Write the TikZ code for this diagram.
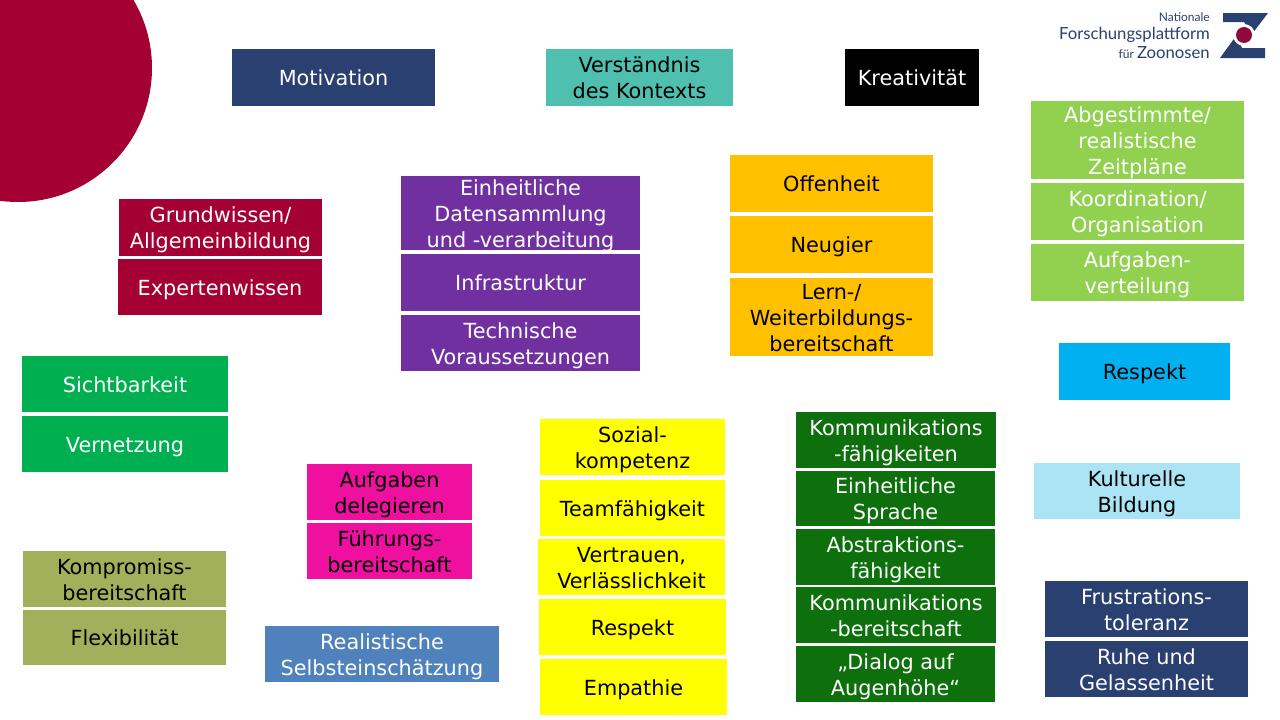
\documentclass[tikz,border=0pt]{standalone}
\usepackage{fontspec}
\setmainfont{DejaVu Sans}
\newfontfamily\logofont{Lato}
\definecolor{crim}{HTML}{A50034}
\definecolor{navy}{HTML}{2A4070}
\definecolor{teal}{HTML}{4FBFAF}
\definecolor{purp}{HTML}{7030A0}
\definecolor{amber}{HTML}{FFC000}
\definecolor{lgreen}{HTML}{92D050}
\definecolor{sky}{HTML}{00B0F0}
\definecolor{green1}{HTML}{00B050}
\definecolor{pinkm}{HTML}{F010A0}
\definecolor{yell}{HTML}{FFFF00}
\definecolor{dgreen}{HTML}{0D700D}
\definecolor{pale}{HTML}{ABE5F5}
\definecolor{olive}{HTML}{A2B05C}
\definecolor{steel}{HTML}{4F81BD}
\definecolor{logored}{HTML}{8E0A3C}
\newcommand{\bxs}{\rule[-5pt]{0pt}{26pt}}
\newcommand{\bx}[8]{%
  \node[box,fill=#6,text=#7,minimum width={(#4-#2)*1pt},minimum height={(#5-#3)*1pt}] (#1) at ({(#2+#4)/2},{(#3+#5)/2}) {\bxs #8\bxs};}
\tikzset{box/.style={inner sep=0pt,outer sep=0pt,align=center,font=\fontsize{20.8}{26}\selectfont},
 logotxt/.style={inner sep=0pt,anchor=base east,text=navy,font=\logofont}}
\begin{document}
\begin{tikzpicture}[x=1pt,y=-1pt]
\useasboundingbox (0,0) rectangle (1280,720);
\begin{scope}
\clip (0,0) rectangle (1280,720);
\fill[crim] (18,68) circle[radius=134pt];
\end{scope}
\bx{mot}{232}{49}{435}{106}{navy}{white}{Motivation}
\bx{ver}{546}{49}{733}{106}{teal}{black}{Verständnis\\des Kontexts}
\bx{kre}{845}{49}{979}{106}{black}{white}{Kreativität}
\bx{abg}{1031}{101}{1244}{179}{lgreen}{white}{Abgestimmte/\\realistische\\Zeitpläne}
\bx{koo}{1031}{183}{1244}{240}{lgreen}{white}{Koordination/\\Organisation}
\bx{auf}{1031}{244}{1244}{301}{lgreen}{white}{Aufgaben-\\verteilung}
\bx{off}{730}{155}{933}{212}{amber}{black}{Offenheit}
\bx{neu}{730}{216}{933}{273}{amber}{black}{Neugier}
\bx{ler}{730}{278}{933}{356}{amber}{black}{Lern-/\\Weiterbildungs-\\bereitschaft}
\node[box,fill=purp,text=white,inner ysep=-2pt,minimum width=239pt,minimum height=74pt] (ein) at (520.5,213) {\bxs Einheitliche\\Datensammlung\\und -verarbeitung\bxs};
\bx{inf}{401}{254}{640}{311}{purp}{white}{Infrastruktur}
\bx{tec}{401}{315}{640}{371}{purp}{white}{Technische\\Voraussetzungen}
\bx{gru}{119}{199}{322}{256}{crim}{white}{Grundwissen/\\Allgemeinbildung}
\bx{exp}{118}{259}{322}{315}{crim}{white}{Expertenwissen}
\bx{sic}{22}{356}{228}{412}{green1}{white}{Sichtbarkeit}
\bx{ven}{22}{416}{228}{472}{green1}{white}{Vernetzung}
\bx{res}{1059}{343}{1230}{400}{sky}{black}{Respekt}
\bx{kul}{1034}{463}{1240}{519}{pale}{black}{Kulturelle\\Bildung}
\bx{fru}{1045}{581}{1248}{637}{navy}{white}{Frustrations-\\toleranz}
\bx{ruh}{1045}{641}{1248}{697}{navy}{white}{Ruhe und\\Gelassenheit}
\bx{del}{307}{464}{472}{520}{pinkm}{black}{Aufgaben\\delegieren}
\bx{fuh}{307}{523}{472}{579}{pinkm}{black}{Führungs-\\bereitschaft}
\bx{kom}{23}{551}{226}{607}{olive}{black}{Kompromiss-\\bereitschaft}
\bx{fle}{23}{610}{226}{665}{olive}{black}{Flexibilität}
\bx{rea}{265}{626}{499}{682}{steel}{white}{Realistische\\Selbsteinschätzung}
\bx{soz}{540}{419}{725}{475}{yell}{black}{Sozial-\\kompetenz}
\bx{tea}{540}{480}{725}{536}{yell}{black}{Teamfähigkeit}
\bx{vet}{538}{539}{725}{595}{yell}{black}{Vertrauen,\\Verlässlichkeit}
\bx{rsp}{539}{599}{726}{655}{yell}{black}{Respekt}
\bx{emp}{540}{659}{727}{715}{yell}{black}{Empathie}
\bx{kf}{796}{412}{996}{468}{dgreen}{white}{Kommunikations\\-fähigkeiten}
\bx{sp}{796}{471}{995}{526}{dgreen}{white}{Einheitliche\\Sprache}
\bx{abs}{796}{529}{995}{585}{dgreen}{white}{Abstraktions-\\fähigkeit}
\bx{kb}{796}{587}{996}{643}{dgreen}{white}{Kommunikations\\-bereitschaft}
\bx{dia}{796}{646}{995}{702}{dgreen}{white}{„Dialog auf\\Augenhöhe“}
% logo
\node[logotxt,font=\logofont\fontsize{12}{14}\selectfont] (l1) at (1210,21) {Nationale};
\node[logotxt,font=\logofont\fontsize{16.7}{18}\selectfont] (l2) at (1210,39) {Forschungsplattform};
\node[logotxt,font=\logofont\fontsize{16.7}{18}\selectfont] (l3) at (1210,58) {\fontsize{12}{14}\selectfont für \fontsize{16.7}{18}\selectfont Zoonosen};
\fill[navy] (1223,13) -- (1268,13) -- (1252,34) -- (1244,22) -- (1223,22) -- cycle;
\fill[navy] (1220,58) -- (1236,36) -- (1242,48) -- (1265,48) -- (1265,58) -- cycle;
\fill[white] (1244,35) circle[radius=11pt];
\fill[logored] (1244,35) circle[radius=8pt];
\end{tikzpicture}
\end{document}
